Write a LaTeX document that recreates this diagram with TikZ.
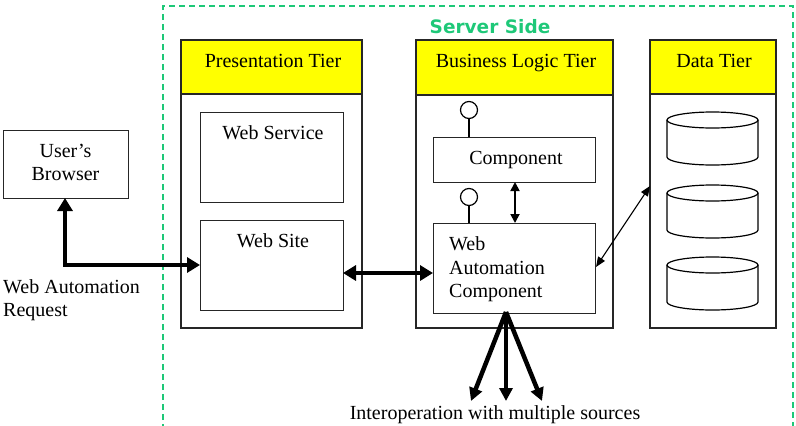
\documentclass[tikz,border=0pt]{standalone}
\usepackage{fontspec}
\setmainfont{Liberation Serif}
\newfontfamily\ssbold{DejaVu Sans}
\usetikzlibrary{arrows.meta}
\definecolor{srvgreen}{RGB}{30,200,120}
\definecolor{hdryellow}{RGB}{255,255,0}
\tikzset{
  box/.style={draw=black!85, line width=1.2pt, fill=white},
  hdr/.style={draw=black!85, line width=1.2pt, fill=hdryellow},
  lbl/.style={font=\fontsize{20}{23}\selectfont, inner sep=0pt, anchor=base},
  lbll/.style={font=\fontsize{20}{23}\selectfont, inner sep=0pt, anchor=base west},
  thickarr/.style={line width=4.5pt, {Triangle[length=13pt,width=15pt]}-{Triangle[length=13pt,width=15pt]}},
  medarr/.style={line width=1.8pt, {Triangle[length=9pt,width=9pt]}-{Triangle[length=9pt,width=9pt]}},
  thinarr/.style={line width=1.1pt, {Triangle[length=10pt,width=8pt]}-{Triangle[length=10pt,width=8pt]}},
  fanarr/.style={line width=4.5pt, -{Triangle[length=13pt,width=13pt]}},
  lolli/.style={draw, circle, line width=1.2pt, minimum size=17pt, inner sep=0pt, fill=white},
}
\newcommand\dbcylinder[2]{% center x, top ellipse center y
  \draw[line width=1.2pt, fill=white] (#1-45.5,#2) -- (#1-45.5,#2+37) arc[start angle=180, end angle=0, x radius=45.5, y radius=8] -- (#1+45.5,#2) arc[start angle=0, end angle=-180, x radius=45.5, y radius=8] -- cycle;
  \draw[line width=1.2pt] (#1-45.5,#2) arc[start angle=180, end angle=0, x radius=45.5, y radius=8];
}
\begin{document}
\begin{tikzpicture}[x=1pt,y=-1pt]
\useasboundingbox (0,0) rectangle (796,426);
% server side region
\draw[srvgreen, line width=1.4pt, dash pattern=on 6pt off 4pt] (163,430) -- (163,6) -- (793,6) -- (793,430);
\node[text=srvgreen, font=\ssbold\bfseries\fontsize{18.5}{22}\selectfont, inner sep=0pt, anchor=base] (srv) at (490,33) {Server Side};
% presentation tier
\draw[box] (181,40) rectangle (362,328);
\draw[hdr] (181,40) rectangle (362,94);
\node[lbl] (pt) at (273,67) {Presentation Tier};
\node[box, minimum width=143pt, minimum height=90pt, anchor=north west, inner sep=0pt] (ws) at (200,112) {};
\node[lbl] (wst) at (273,139) {Web Service};
\node[box, minimum width=143pt, minimum height=90pt, anchor=north west, inner sep=0pt] (site) at (200,220) {};
\node[lbl] (sitet) at (273,247) {Web Site};
% business logic tier
\draw[box] (416,40) rectangle (613,328);
\draw[hdr] (416,40) rectangle (613,95);
\node[lbl] (blt) at (516,67) {Business Logic Tier};
\node[box, minimum width=162pt, minimum height=45pt, anchor=north west, inner sep=0pt] (comp) at (433,137) {};
\node[lbl] (compt) at (516,164) {Component};
\node[box, minimum width=162pt, minimum height=90pt, anchor=north west, inner sep=0pt] (wac) at (433,223) {};
\node[lbll] (wac1) at (449,250) {Web};
\node[lbll] (wac2) at (449,274) {Automation};
\node[lbll] (wac3) at (449,297) {Component};
% lollipops
\node[lolli] (lp1) at (469,110) {};
\draw[line width=1.2pt] (lp1.south) -- (lp1.south |- comp.north);
\node[lolli] (lp2) at (469,197) {};
\draw[line width=1.2pt] (lp2.south) -- (lp2.south |- wac.north);
\coordinate (c1) at (515,182);
\coordinate (c2) at (515,223);
\draw[medarr] (c1) -- (c2);
% data tier
\draw[box] (650,40) rectangle (776,328);
\draw[hdr] (650,40) rectangle (776,94);
\node[lbl] (dt) at (714,67) {Data Tier};
\dbcylinder{712.5}{120}
\dbcylinder{712.5}{193}
\dbcylinder{712.5}{265}
\coordinate (dtl) at (650,186);
\coordinate (wacr) at (596,267);
\draw[thinarr] (wacr) -- (dtl);
% web site <-> wac
\coordinate (sr) at (343,273);
\coordinate (wl) at (433,273);
\draw[thickarr] (sr) -- (wl);
% user's browser
\node[box, minimum width=125pt, minimum height=68pt, anchor=north west, inner sep=0pt] (ub) at (3,130) {};
\node[lbl] (ubt1) at (65.5,157) {User's};
\node[lbl] (ubt2) at (65.5,180) {Browser};
\coordinate (ubb) at (65,198);
\coordinate (sl) at (200,265);
\draw[thickarr] (ubb) -- (65,265) -- (sl);
\node[lbll] (war1) at (3,293) {Web Automation};
\node[lbll] (war2) at (3,316) {Request};
% fan-out
\coordinate (fo) at (506,312);
\coordinate (f1) at (471,401);
\coordinate (f2) at (506,401);
\coordinate (f3) at (542,401);
\draw[fanarr] (fo) -- (f1);
\draw[fanarr] (fo) -- (f2);
\draw[fanarr] (fo) -- (f3);
\node[lbl] (inter) at (495,419) {Interoperation with multiple sources};
\end{tikzpicture}
\end{document}
